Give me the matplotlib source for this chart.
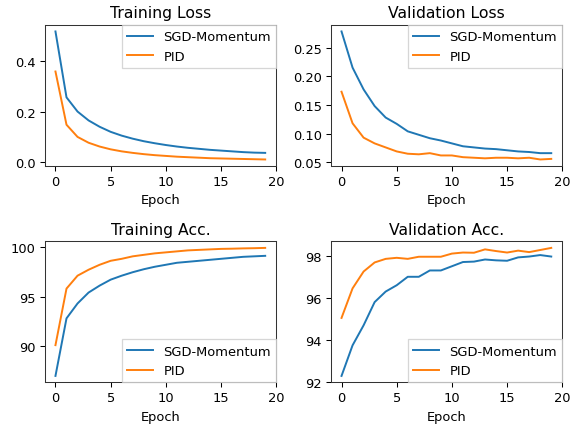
import matplotlib
matplotlib.use("Agg")
import matplotlib.pyplot as plt
import numpy as np

epochs = np.arange(20)

train_loss_sgd = [0.516, 0.256, 0.200, 0.165, 0.140, 0.120, 0.105, 0.093, 0.083, 0.075,
                  0.068, 0.062, 0.057, 0.053, 0.049, 0.046, 0.043, 0.040, 0.038, 0.037]
train_loss_pid = [0.358, 0.148, 0.100, 0.077, 0.062, 0.051, 0.043, 0.037, 0.032, 0.028,
                  0.025, 0.022, 0.020, 0.018, 0.016, 0.015, 0.014, 0.013, 0.012, 0.011]

val_loss_sgd = [0.278, 0.215, 0.177, 0.148, 0.128, 0.117, 0.104, 0.098, 0.092, 0.088,
                0.083, 0.078, 0.076, 0.074, 0.073, 0.071, 0.069, 0.068, 0.066, 0.066]
val_loss_pid = [0.173, 0.118, 0.093, 0.083, 0.076, 0.069, 0.065, 0.064, 0.066, 0.062,
                0.062, 0.059, 0.058, 0.057, 0.058, 0.058, 0.057, 0.058, 0.055, 0.056]

train_acc_sgd = [87.0, 92.8, 94.3, 95.4, 96.1, 96.7, 97.1, 97.45, 97.75, 98.0,
                 98.2, 98.4, 98.5, 98.6, 98.7, 98.8, 98.9, 99.0, 99.05, 99.1]
train_acc_pid = [90.1, 95.8, 97.1, 97.7, 98.2, 98.6, 98.8, 99.05, 99.2, 99.35,
                 99.45, 99.55, 99.65, 99.7, 99.75, 99.8, 99.82, 99.85, 99.87, 99.9]

val_acc_sgd = [92.3, 93.75, 94.7, 95.8, 96.3, 96.6, 97.0, 97.0, 97.3, 97.3,
               97.5, 97.7, 97.72, 97.82, 97.78, 97.76, 97.92, 97.96, 98.03, 97.96]
val_acc_pid = [95.05, 96.45, 97.25, 97.68, 97.85, 97.9, 97.85, 97.95, 97.95, 97.95,
               98.1, 98.15, 98.14, 98.3, 98.22, 98.15, 98.24, 98.17, 98.27, 98.37]

panels = [
    ("Training Loss", train_loss_sgd, train_loss_pid, "upper right",
     [0.0, 0.2, 0.4], "%.1f"),
    ("Validation Loss", val_loss_sgd, val_loss_pid, "upper right",
     [0.05, 0.10, 0.15, 0.20, 0.25], "%.2f"),
    ("Training Acc.", train_acc_sgd, train_acc_pid, "lower right",
     [90, 95, 100], "%d"),
    ("Validation Acc.", val_acc_sgd, val_acc_pid, "lower right",
     [92, 94, 96, 98], "%d"),
]

dpi = 93.5
fig, axes = plt.subplots(2, 2, figsize=(573 / dpi, 427 / dpi), dpi=dpi)
fig.subplots_adjust(left=0.0785, right=0.9813, top=0.939, bottom=0.1023,
                    wspace=0.237, hspace=0.537)

for ax, (title, sgd, pid, loc, yt, fmt) in zip(axes.flat, panels):
    ax.plot(epochs, sgd, color="#1f77b4", label="SGD-Momentum")
    ax.plot(epochs, pid, color="#ff7f0e", label="PID")
    ax.set_title(title)
    ax.set_xlabel("Epoch")
    ax.set_xlim(-0.95, 20)
    ax.set_xticks([0, 5, 10, 15, 20])
    ax.set_yticks(yt)
    ax.yaxis.set_major_formatter(matplotlib.ticker.FormatStrFormatter(fmt))
    for s in ax.spines.values():
        s.set_color("#333333")
    leg = ax.legend(loc=loc, fancybox=False, borderaxespad=0)
    leg.get_frame().set_edgecolor("#cccccc")

fig.savefig("out.png", dpi=dpi)
